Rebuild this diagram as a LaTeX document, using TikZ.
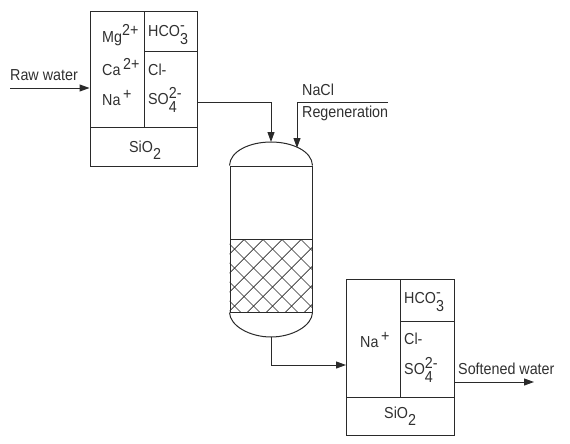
\documentclass[tikz,border=0pt]{standalone}
\usepackage{fontspec}
\setmainfont[FakeStretch=0.9]{Liberation Sans}
\usepackage{tikz}
\usetikzlibrary{arrows.meta, positioning, calc}
\definecolor{linec}{HTML}{2A2A2A}
\definecolor{textc}{HTML}{303030}
\newcommand{\ionup}[1]{\raisebox{0.42em}{#1}}
\newcommand{\iondown}[1]{\raisebox{-0.42em}{#1}}
\newcommand{\ionstack}[2]{\rlap{\raisebox{0.42em}{#2}}\raisebox{-0.5em}{#1}}
\tikzset{
  cellbox/.style={rectangle, draw=linec, line width=1pt, inner sep=0pt},
  ionlabel/.style={anchor=west, inner sep=0pt, text=textc},
  flow/.style={-{Triangle[length=10pt, width=7pt]}, draw=linec, line width=1pt}
}
\begin{document}
\begin{tikzpicture}[x=1pt, y=-1pt, font=\fontsize{15.9}{18}\selectfont]
  \useasboundingbox (0,0) rectangle (570,444);
  % first exchanger table
  \node[cellbox, minimum width=54pt, minimum height=115.5pt] (cationa) at (117,69.25) {};
  \node[cellbox, minimum width=53.5pt, minimum height=40.5pt] (hcoa) at (170.75,31.75) {};
  \node[cellbox, minimum width=53.5pt, minimum height=75pt] (aniona) at (170.75,89.5) {};
  \node[cellbox, minimum width=107.5pt, minimum height=39pt] (silicaa) at (143.75,146.5) {};
  \node[ionlabel] (mga) at (102,35) {Mg\ionup{2+}};
  \node[ionlabel] (caa) at (102,67) {Ca\,\ionup{2+}};
  \node[ionlabel] (naa) at (102,98) {Na\,\ionup{+}};
  \node[ionlabel] (hcolaba) at (148,35) {HCO\ionstack{3}{-}};
  \node[ionlabel] (cla) at (148,70) {Cl-};
  \node[ionlabel] (soa) at (148,100) {SO\ionstack{4}{2-}};
  \node[ionlabel] (sia) at (129,150) {SiO\iondown{2}};
  % vessel
  \node[cellbox, minimum width=82pt, minimum height=146pt] (vessel) at (271,239) {};
  \coordinate (topa) at (271,142);
  \coordinate (topb) at (297,148);
  \coordinate (bottom) at (271,337);
  \draw[linec, line width=1pt] (vessel.north west) .. controls (230,151) and (250,142) .. (topa)
    .. controls (292,142) and (312,151) .. (vessel.north east);
  \draw[linec, line width=1pt] (vessel.south west) .. controls (230,326) and (250,337) .. (bottom)
    .. controls (292,337) and (312,326) .. (vessel.south east);
  \node[cellbox, minimum width=82pt, minimum height=72.5pt] (packing) at (271,275.75) {};
  \begin{scope}
    \clip (packing.north west) rectangle (packing.south east);
    \foreach \i in {-8,...,8} {
      \draw[linec, line width=0.7pt] (225+19*\i,239.5) -- ++(90,90);
      \draw[linec, line width=0.7pt] (225+19*\i,239.5) -- ++(-90,90);
    }
  \end{scope}
  % second exchanger table
  \node[cellbox, minimum width=53.5pt, minimum height=118pt] (cationb) at (373.25,338) {};
  \node[cellbox, minimum width=54pt, minimum height=42pt] (hcob) at (427,300) {};
  \node[cellbox, minimum width=54pt, minimum height=76pt] (anionb) at (427,359) {};
  \node[cellbox, minimum width=107.5pt, minimum height=38pt] (silicab) at (400.25,416) {};
  \node[ionlabel] (nab) at (360,340) {Na\,\ionup{+}};
  \node[ionlabel] (hcolabb) at (404,302) {HCO\ionstack{3}{-}};
  \node[ionlabel] (clb) at (404,339) {Cl-};
  \node[ionlabel] (sob) at (404,370) {SO\ionstack{4}{2-}};
  \node[ionlabel] (sib) at (384,416) {SiO\iondown{2}};
  % streams
  \coordinate (rawin) at (10,88);
  \coordinate (naclin) at (388,102);
  \coordinate (softout) at (534,382);
  \node[ionlabel] (rawlabel) at (10,75) {Raw water};
  \node[ionlabel] (nacllabel) at (302,90) {NaCl};
  \node[ionlabel] (regenlabel) at (302,113) {Regeneration};
  \node[ionlabel] (softlabel) at (458,369) {Softened water};
  \draw[flow] (rawin) -- (rawin -| cationa.west);
  \draw[flow] (aniona.east |- 0,102) -| (topa);
  \draw[flow] (naclin) -| (topb);
  \draw[flow] (bottom) |- (cationb.west |- 0,365);
  \draw[flow] (anionb.east |- softout) -- (softout);
\end{tikzpicture}
\end{document}
